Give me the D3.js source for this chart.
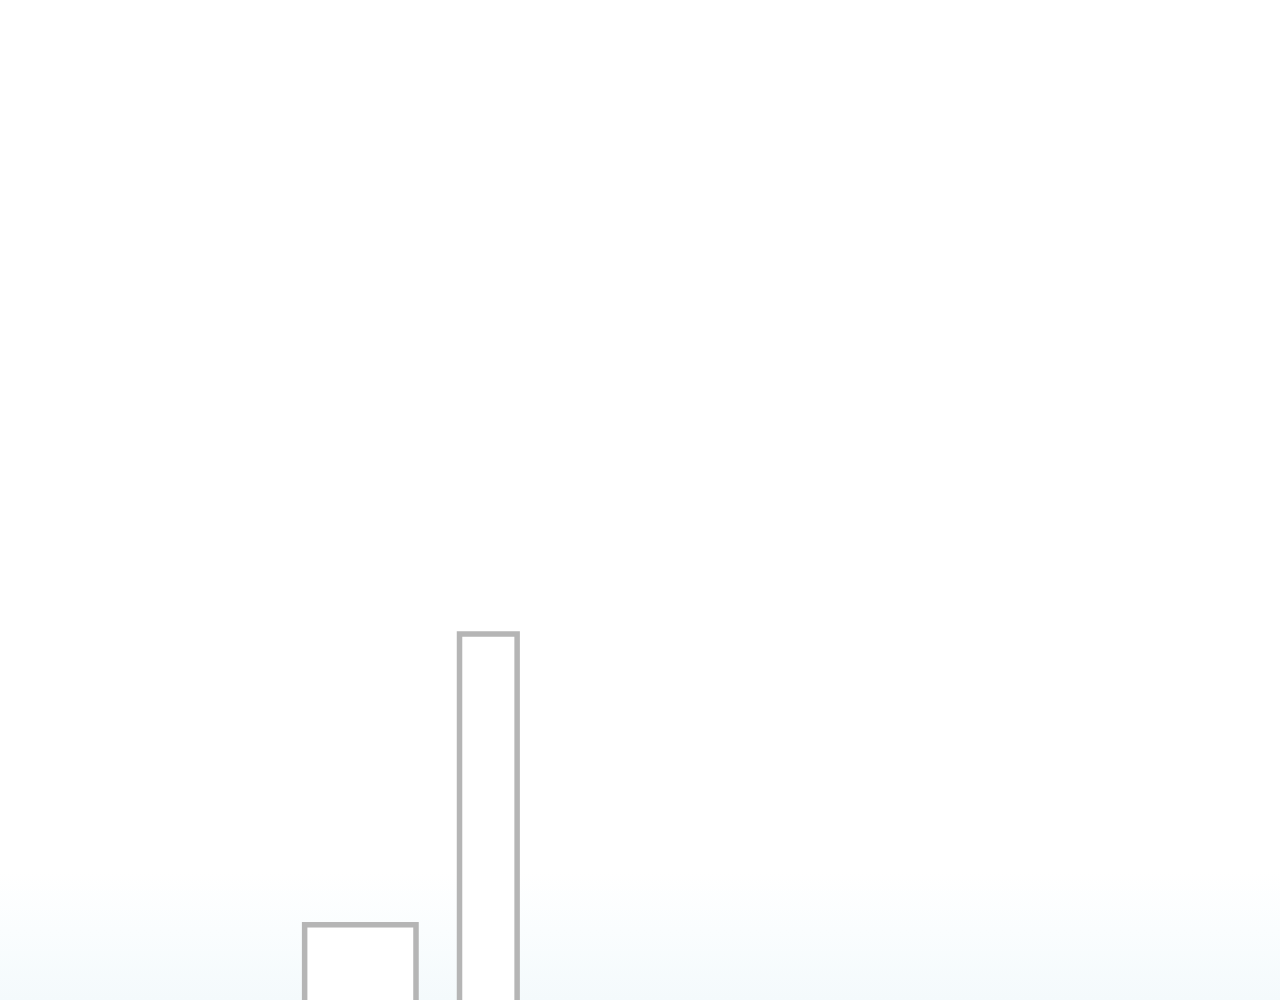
<!DOCTYPE html>
<html>
<head>
<meta charset="utf-8">
<script src="https://cdn.jsdelivr.net/npm/d3@7"></script>
<style>
  html, body { margin: 0; padding: 0; background: #ffffff; overflow: hidden; }
</style>
</head>
<body>
<div id="chart"></div>
<script>
// bins (left edge, right edge) and counts
var binStart = [2.38, 3.59];
var binEnd   = [3.25, 4.04];
var counts   = [2.72, 12.0];

var width  = 1280;
var height = 1000;
var barColor    = "#b5b5b5";
var strokeWidth = 5.5;

var svg = d3.select("#chart")
    .append("svg")
    .attr("width", width)
    .attr("height", height);

var defs = svg.append("defs");

// faint sky tint towards the bottom
var grad = defs.append("linearGradient")
    .attr("id", "bg")
    .attr("x1", 0).attr("y1", 0)
    .attr("x2", 0).attr("y2", 1);
grad.append("stop").attr("offset", "0.87").attr("stop-color", "#ffffff");
grad.append("stop").attr("offset", "0.93").attr("stop-color", "#fafdfe");
grad.append("stop").attr("offset", "1").attr("stop-color", "#f4fafc");

svg.append("rect")
    .attr("width", width)
    .attr("height", height)
    .style("fill", "url(#bg)");

// scales: baseline sits below the visible area
var x = d3.scaleLinear()
    .domain([0, 10])
    .range([0, 1280]);

var y = d3.scaleLinear()
    .domain([0, 15])
    .range([1010, 540]);

var data = counts.map(function(c, i) {
    return { x0: binStart[i], x1: binEnd[i], count: c };
});

svg.selectAll("rect.bar")
    .data(data)
    .enter()
    .append("rect")
    .attr("class", "bar")
    .attr("x", function(d) { return x(d.x0); })
    .attr("y", function(d) { return y(d.count); })
    .attr("width", function(d) { return x(d.x1) - x(d.x0); })
    .attr("height", function(d) { return y(0) - y(d.count); })
    .style("fill", "#ffffff")
    .style("stroke", barColor)
    .style("stroke-width", strokeWidth + "px");
</script>
</body>
</html>
